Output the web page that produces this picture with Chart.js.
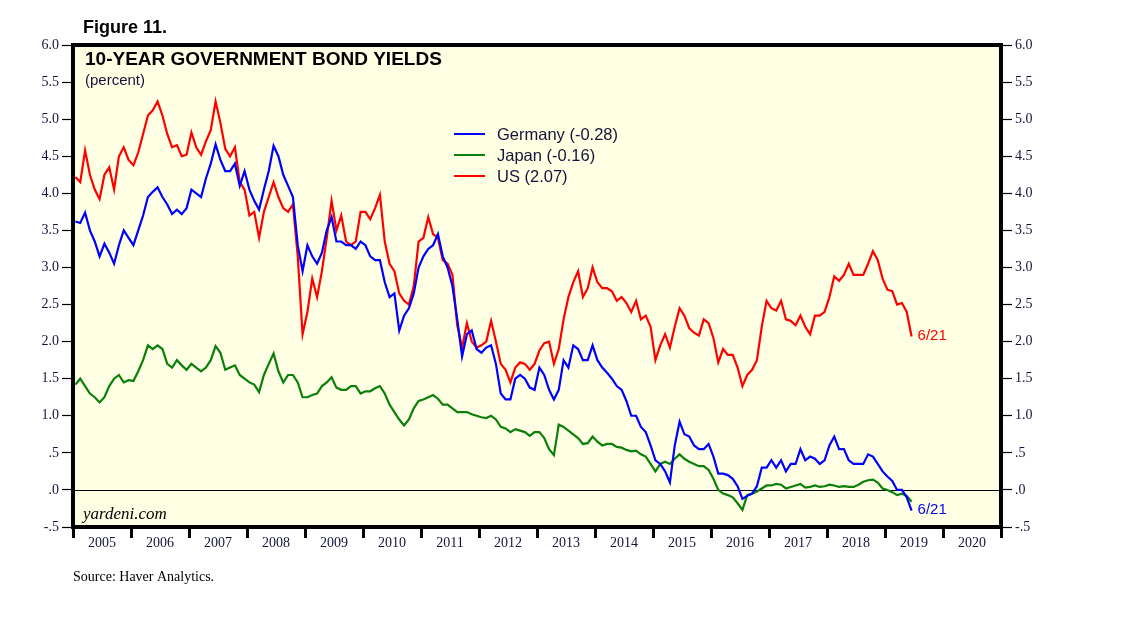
<!DOCTYPE html>
<html>
<head>
<meta charset="utf-8">
<script src="https://cdn.jsdelivr.net/npm/chart.js@4.4.1/dist/chart.umd.min.js"></script>
<style>
  html, body { margin: 0; padding: 0; background: #fff; }
  canvas { display: block; }
</style>
</head>
<body>
<canvas id="yields" width="1138" height="626"></canvas>
<script>
// ======= Data (monthly readings, Jan 2005 .. Jun 2019) =======
const startYear = 2005;
const seriesNames = ['Germany (-0.28)', 'Japan (-0.16)', 'US (2.07)'];
const seriesColors = ['#0000ff', '#0a7f0a', '#ff0000'];
const endLabel = '6/21';

const germany = [
    3.62, 3.60, 3.74, 3.50, 3.35, 3.15, 3.32, 3.20, 3.05, 3.30, 3.50, 3.40,
    3.30, 3.50, 3.70, 3.95, 4.02, 4.08, 3.95, 3.85, 3.72, 3.78, 3.72, 3.80,
    4.05, 4.00, 3.95, 4.20, 4.40, 4.66, 4.45, 4.30, 4.30, 4.40, 4.10, 4.30,
    4.05, 3.90, 3.78, 4.05, 4.30, 4.64, 4.50, 4.25, 4.10, 3.95, 3.30, 2.95,
    3.30, 3.15, 3.05, 3.20, 3.50, 3.68, 3.35, 3.35, 3.30, 3.30, 3.25, 3.35,
    3.30, 3.15, 3.10, 3.10, 2.80, 2.60, 2.65, 2.15, 2.35, 2.45, 2.65, 3.00,
    3.15, 3.25, 3.30, 3.45, 3.15, 3.00, 2.75, 2.30, 1.80, 2.10, 2.15, 1.90,
    1.85, 1.92, 1.95, 1.70, 1.30, 1.22, 1.22, 1.50, 1.55, 1.50, 1.38, 1.35,
    1.65, 1.55, 1.35, 1.22, 1.35, 1.75, 1.65, 1.95, 1.90, 1.75, 1.75, 1.95,
    1.75, 1.65, 1.58, 1.50, 1.40, 1.35, 1.20, 1.00, 1.00, 0.85, 0.78, 0.60,
    0.40, 0.35, 0.25, 0.10, 0.60, 0.92, 0.75, 0.72, 0.60, 0.55, 0.55, 0.62,
    0.45, 0.22, 0.22, 0.20, 0.15, 0.05, -0.12, -0.08, -0.05, 0.05, 0.30, 0.30,
    0.40, 0.30, 0.40, 0.25, 0.35, 0.35, 0.55, 0.40, 0.45, 0.42, 0.35, 0.40,
    0.60, 0.72, 0.55, 0.55, 0.40, 0.35, 0.35, 0.35, 0.48, 0.45, 0.35, 0.25,
    0.18, 0.12, 0.00, 0.00, -0.10, -0.28
];

const japan = [
    1.42, 1.50, 1.40, 1.30, 1.25, 1.18, 1.25, 1.40, 1.50, 1.55, 1.45, 1.48,
    1.47, 1.60, 1.75, 1.95, 1.90, 1.95, 1.90, 1.70, 1.65, 1.75, 1.68, 1.62,
    1.70, 1.65, 1.60, 1.65, 1.75, 1.94, 1.85, 1.62, 1.65, 1.68, 1.55, 1.50,
    1.45, 1.42, 1.32, 1.55, 1.70, 1.84, 1.60, 1.45, 1.55, 1.55, 1.45, 1.25,
    1.25, 1.28, 1.30, 1.40, 1.45, 1.52, 1.38, 1.35, 1.35, 1.40, 1.40, 1.30,
    1.33, 1.33, 1.37, 1.40, 1.30, 1.15, 1.05, 0.95, 0.87, 0.95, 1.10, 1.20,
    1.22, 1.25, 1.28, 1.23, 1.15, 1.15, 1.10, 1.05, 1.05, 1.05, 1.02, 1.00,
    0.98, 0.97, 1.00, 0.95, 0.85, 0.83, 0.78, 0.82, 0.80, 0.78, 0.73, 0.78,
    0.78, 0.70, 0.55, 0.47, 0.88, 0.85, 0.80, 0.75, 0.70, 0.62, 0.63, 0.72,
    0.65, 0.60, 0.62, 0.62, 0.58, 0.57, 0.54, 0.52, 0.53, 0.48, 0.45, 0.35,
    0.25, 0.35, 0.38, 0.35, 0.42, 0.48, 0.42, 0.38, 0.35, 0.32, 0.32, 0.27,
    0.15, 0.00, -0.05, -0.07, -0.10, -0.18, -0.27, -0.07, -0.05, -0.02, 0.02, 0.06,
    0.06, 0.08, 0.07, 0.02, 0.04, 0.06, 0.08, 0.03, 0.04, 0.06, 0.04, 0.05,
    0.07, 0.06, 0.04, 0.05, 0.04, 0.04, 0.07, 0.11, 0.13, 0.14, 0.10, 0.02,
    0.00, -0.03, -0.07, -0.05, -0.08, -0.16
];

const us = [
    4.22, 4.15, 4.58, 4.25, 4.05, 3.92, 4.25, 4.35, 4.05, 4.50, 4.62, 4.45,
    4.38, 4.55, 4.80, 5.05, 5.12, 5.24, 5.05, 4.80, 4.62, 4.65, 4.50, 4.52,
    4.82, 4.62, 4.52, 4.70, 4.85, 5.24, 4.95, 4.60, 4.50, 4.62, 4.15, 4.05,
    3.70, 3.75, 3.40, 3.75, 3.95, 4.15, 3.95, 3.80, 3.75, 3.85, 3.15, 2.10,
    2.40, 2.85, 2.60, 2.95, 3.40, 3.90, 3.50, 3.70, 3.35, 3.30, 3.35, 3.75,
    3.75, 3.65, 3.80, 3.98, 3.35, 3.05, 2.95, 2.65, 2.55, 2.50, 2.75, 3.35,
    3.40, 3.68, 3.45, 3.40, 3.10, 3.05, 2.90, 2.22, 1.92, 2.25, 2.00, 1.92,
    1.95, 2.00, 2.28, 2.00, 1.70, 1.62, 1.45, 1.65, 1.72, 1.70, 1.62, 1.70,
    1.88, 1.98, 2.00, 1.70, 1.90, 2.30, 2.60, 2.80, 2.95, 2.60, 2.72, 3.00,
    2.80, 2.72, 2.72, 2.68, 2.55, 2.60, 2.52, 2.40, 2.55, 2.30, 2.35, 2.20,
    1.75, 1.95, 2.10, 1.92, 2.20, 2.45, 2.35, 2.18, 2.12, 2.08, 2.30, 2.25,
    2.05, 1.72, 1.90, 1.82, 1.82, 1.65, 1.40, 1.55, 1.62, 1.75, 2.20, 2.55,
    2.45, 2.42, 2.55, 2.30, 2.28, 2.22, 2.35, 2.20, 2.10, 2.35, 2.35, 2.40,
    2.60, 2.88, 2.82, 2.90, 3.05, 2.90, 2.90, 2.90, 3.05, 3.22, 3.10, 2.85,
    2.70, 2.68, 2.50, 2.52, 2.40, 2.07
];

// place each monthly reading mid-month on a fractional-year axis
function toPoints(values) {
    return values.map((v, i) => ({ x: startYear + (i + 0.5) / 12, y: v }));
}

// ======= y tick label style: 6.0 ... 1.0, .5, .0, -.5 =======
function yLabel(v) {
    if (Math.abs(v) < 1) {
        const s = Math.abs(v).toFixed(1).slice(1);
        return v < 0 ? '-' + s : s;
    }
    return v.toFixed(1);
}

const serif = '"Liberation Serif", "Times New Roman", serif';
const sans = '"Liberation Sans", Arial, sans-serif';
const tickInk = '#14143a';

// ======= Frame, background, zero line, texts =======
const decorations = {
    id: 'decorations',
    beforeDraw(chart) {
        const { ctx, chartArea: a } = chart;
        ctx.save();
        ctx.fillStyle = '#ffffe3';
        ctx.fillRect(a.left, a.top, a.right - a.left, a.bottom - a.top);
        ctx.restore();
    },
    beforeDatasetsDraw(chart) {
        const { ctx, chartArea: a, scales } = chart;
        const y0 = Math.round(scales.y.getPixelForValue(0)) + 0.5;
        ctx.save();
        ctx.strokeStyle = '#000';
        ctx.lineWidth = 1;
        ctx.beginPath();
        ctx.moveTo(a.left, y0);
        ctx.lineTo(a.right, y0);
        ctx.stroke();
        ctx.restore();
    },
    afterDraw(chart) {
        const { ctx, chartArea: a, scales } = chart;
        ctx.save();
        // thick frame round the plot
        ctx.strokeStyle = '#000';
        ctx.lineWidth = 4;
        ctx.strokeRect(a.left, a.top, a.right - a.left, a.bottom - a.top);

        ctx.fillStyle = '#000';
        ctx.textBaseline = 'alphabetic';
        ctx.font = 'bold 18px ' + sans;
        ctx.fillText('Figure 11.', 83, 33);
        ctx.font = 'bold 19px ' + sans;
        ctx.fillText('10-YEAR GOVERNMENT BOND YIELDS', 85, 65);
        ctx.font = '15px ' + sans;
        ctx.fillStyle = '#14143a';
        ctx.fillText('(percent)', 85, 85);

        // legend
        const lx = 454, ly = [134, 155, 176];
        seriesNames.forEach((name, i) => {
            ctx.strokeStyle = seriesColors[i];
            ctx.lineWidth = 2;
            ctx.beginPath();
            ctx.moveTo(lx, ly[i]);
            ctx.lineTo(lx + 31, ly[i]);
            ctx.stroke();
            ctx.fillStyle = '#14143a';
            ctx.font = '16.5px ' + sans;
            ctx.textBaseline = 'middle';
            ctx.fillText(name, 497, ly[i] + 1);
        });

        // end-of-series labels
        ctx.font = '15px ' + sans;
        ctx.textBaseline = 'middle';
        const lastX = scales.x.getPixelForValue(toPoints(us)[us.length - 1].x);
        ctx.fillStyle = seriesColors[2];
        ctx.fillText(endLabel, lastX + 6, scales.y.getPixelForValue(us[us.length - 1]) - 1);
        ctx.fillStyle = seriesColors[0];
        ctx.fillText(endLabel, lastX + 6, scales.y.getPixelForValue(germany[germany.length - 1]) - 1);

        // watermark + source
        ctx.textBaseline = 'alphabetic';
        ctx.fillStyle = '#000';
        ctx.font = 'italic 17px ' + serif;
        ctx.fillText('yardeni.com', 83, 519);
        ctx.font = '14px ' + serif;
        ctx.fillText('Source: Haver Analytics.', 73, 581);
        ctx.restore();
    }
};

const yAxis = (position, width) => ({
    type: 'linear',
    position: position,
    min: -0.5,
    max: 6.0,
    afterBuildTicks: scale => {
        scale.ticks = [];
        for (let k = -1; k <= 12; k++) scale.ticks.push({ value: k / 2 });
    },
    afterFit: scale => { scale.width = width; },
    border: { display: false },
    grid: { drawOnChartArea: false, tickLength: 11, tickColor: '#000', tickWidth: 1.2 },
    ticks: {
        padding: 3,
        color: tickInk,
        font: { family: serif, size: 14 },
        callback: v => yLabel(v)
    }
});

new Chart(document.getElementById('yields'), {
    type: 'line',
    data: {
        datasets: [
            { label: seriesNames[0], data: toPoints(germany), borderColor: seriesColors[0] },
            { label: seriesNames[1], data: toPoints(japan), borderColor: seriesColors[1] },
            { label: seriesNames[2], data: toPoints(us), borderColor: seriesColors[2] }
        ]
    },
    options: {
        responsive: false,
        animation: false,
        devicePixelRatio: 1,
        layout: { padding: { top: 45, left: 0, right: 0, bottom: 0 } },
        elements: {
            line: { borderWidth: 2.2, tension: 0 },
            point: { radius: 0 }
        },
        plugins: { legend: { display: false }, tooltip: { enabled: false } },
        scales: {
            x: {
                type: 'linear',
                min: 2005,
                max: 2021,
                afterBuildTicks: scale => {
                    scale.ticks = [];
                    for (let yr = 2005; yr <= 2021; yr++) {
                        scale.ticks.push({ value: yr });
                        if (yr < 2021) scale.ticks.push({ value: yr + 0.5 });
                    }
                },
                afterFit: scale => { scale.height = 99; },
                border: { display: false },
                grid: {
                    drawOnChartArea: false,
                    tickLength: 11,
                    tickWidth: 3,
                    tickColor: c => (c.tick && c.tick.value % 1 === 0) ? '#000' : 'rgba(0,0,0,0)'
                },
                ticks: {
                    autoSkip: false,
                    maxRotation: 0,
                    padding: -3,
                    color: tickInk,
                    font: { family: serif, size: 14 },
                    callback: v => (v % 1 !== 0) ? String(Math.floor(v)) : ''
                }
            },
            y: yAxis('left', 73),
            y2: yAxis('right', 137)
        }
    },
    plugins: [decorations]
});
</script>
</body>
</html>
